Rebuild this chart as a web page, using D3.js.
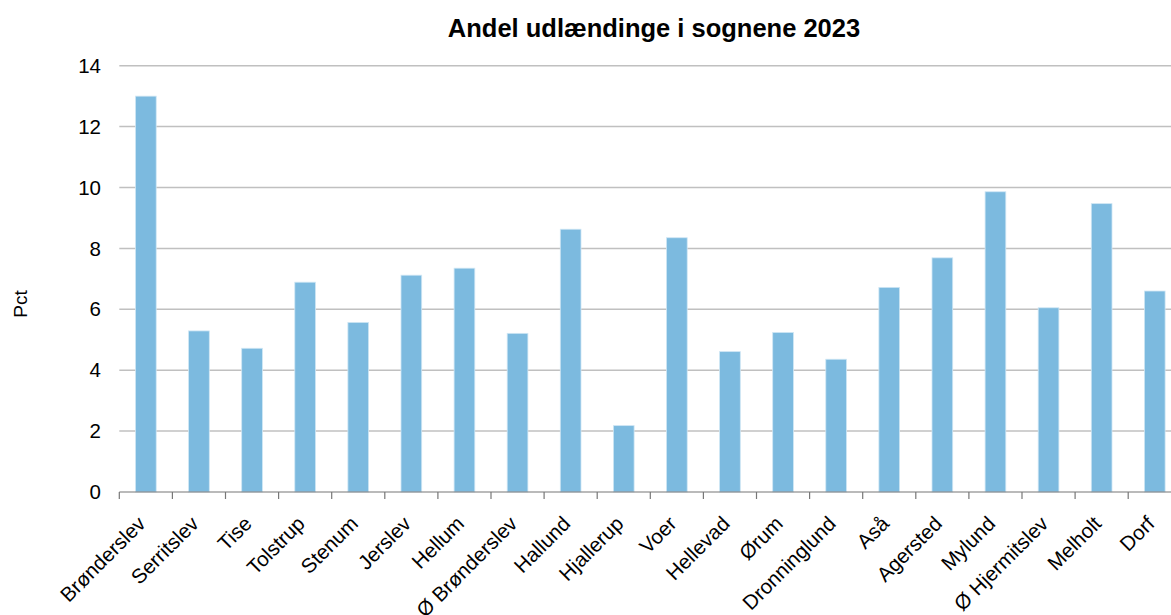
<!DOCTYPE html>
<html><head><meta charset="utf-8">
<script src="https://cdn.jsdelivr.net/npm/d3@7"></script>
<style>body{margin:0;background:#fff;overflow:hidden}svg{display:block;font-family:"Liberation Sans",Arial,sans-serif}</style>
</head><body>
<script>
const categories = ["Brønderslev","Serritslev","Tise","Tolstrup","Stenum","Jerslev","Hellum","Ø Brønderslev","Hallund","Hjallerup","Voer","Hellevad","Ørum","Dronninglund","Aså","Agersted","Mylund","Ø Hjermitslev","Melholt","Dorf"];
const values = [13.0,5.29,4.72,6.89,5.57,7.12,7.35,5.21,8.63,2.18,8.35,4.61,5.24,4.36,6.72,7.69,9.86,6.05,9.47,6.60];
const yTicks = [0,2,4,6,8,10,12,14];
const title = "Andel udlændinge i sognene 2023";
const yLabel = "Pct";

const W = 1171, H = 615;
const svg = d3.select("body").append("svg").attr("width", W).attr("height", H);
const x = d3.scaleBand().domain(categories).range([119.3, 1181.3]).padding(0);
const y = d3.scaleLinear().domain([0, 14]).range([492, 65.7]);

// gridlines
svg.append("g").selectAll("line").data(yTicks.filter(d => d > 0)).join("line")
  .attr("x1", 119.3).attr("x2", W).attr("y1", d => y(d)).attr("y2", d => y(d))
  .attr("stroke", "#c0c0c0").attr("stroke-width", 1.5);

// y tick labels
svg.append("g").selectAll("text").data(yTicks).join("text")
  .attr("x", 101).attr("y", d => y(d)).attr("dy", "0.35em")
  .attr("text-anchor", "end").attr("font-size", 20.5).attr("fill", "#000")
  .text(d => d);

// bars
const bw = x.step() * 0.39;
svg.append("g").selectAll("rect").data(values).join("rect")
  .attr("x", (d, i) => x(categories[i]) + x.step() / 2 - bw / 2)
  .attr("y", d => y(d)).attr("width", bw).attr("height", d => y(0) - y(d))
  .attr("fill", "#7cbadf").attr("stroke", "#cfe6f4").attr("stroke-width", 0.8);

// x axis line and ticks
const xa = svg.append("g");
xa.append("line").attr("x1", 119.3).attr("x2", W).attr("y1", y(0)).attr("y2", y(0))
  .attr("stroke", "#777").attr("stroke-width", 1.2);
xa.selectAll("line.tk").data(categories).join("line").attr("class", "tk")
  .attr("x1", d => x(d)).attr("x2", d => x(d)).attr("y1", y(0)).attr("y2", y(0) + 7)
  .attr("stroke", "#777").attr("stroke-width", 1.2);

// x labels
xa.selectAll("text").data(categories).join("text")
  .attr("transform", d => `translate(${x(d) + x.step() / 2 + 1},${y(0) + 33}) rotate(-45)`)
  .attr("text-anchor", "end").attr("font-size", 20.5).attr("fill", "#000")
  .text(d => d);

// title
svg.append("text").attr("x", 654).attr("y", 37).attr("text-anchor", "middle")
  .attr("font-size", 25.5).attr("font-weight", "bold").text(title);

// y label
svg.append("text").attr("transform", `translate(27,304) rotate(-90)`)
  .attr("text-anchor", "middle").attr("font-size", 19).text(yLabel);
</script>
</body></html>
